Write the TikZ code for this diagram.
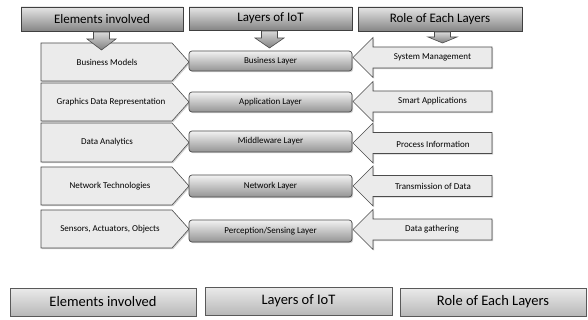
\documentclass[tikz,border=0pt]{standalone}
\usepackage{fontspec}
\setmainfont{Carlito}
\usetikzlibrary{shadows}
% block shapes drawn as explicit outlines
\newcommand\flowdown[4]{% centre x, top y, head y, tip y
  \draw[darr] (#1-8,#2) -- (#1+8,#2) -- (#1+8,#3) -- (#1+14.5,#3) -- (#1,#4)
    -- (#1-14.5,#3) -- (#1-8,#3) -- cycle;}
\newcommand\elemshape[2]{% top y, bottom y
  \draw[pent] (41,#1) -- (172,#1) -- (189,{(#1+#2)/2}) -- (172,#2) -- (41,#2) -- cycle;}
\newcommand\roleshape[1]{% centre y
  \draw[pent] (353,#1) -- (373,#1-20) -- (373,#1-10.5) -- (492,#1-10.5)
    -- (492,#1+10.5) -- (373,#1+10.5) -- (373,#1+20) -- cycle;}
\begin{document}
\begin{tikzpicture}[x=1pt,y=-1pt,
  shade/.style={drop shadow={shadow xshift=1.2pt,shadow yshift=-1.2pt,opacity=0.35}},
  hdr/.style={draw=black!75, line width=0.7pt, top color=black!10, bottom color=black!48, shade},
  lay/.style={draw=black!70, line width=0.7pt, rounded corners=3pt, top color=black!5, bottom color=black!42, shade},
  pent/.style={draw=black!70, line width=0.6pt, fill=black!8, shade},
  darr/.style={draw=black!70, line width=0.6pt, top color=black!15, bottom color=black!50},
  foot/.style={draw=black!65, line width=0.6pt, top color=black!8, bottom color=black!28, shade},
  big/.style={font=\fontsize{13}{15}\selectfont},
  bigger/.style={font=\fontsize{14.5}{17}\selectfont},
  small/.style={font=\fontsize{9}{11}\selectfont}]
\useasboundingbox (0,0) rectangle (588,320);
\fill[white] (0,0) rectangle (588,320);

% column headings
\draw[hdr] (21,7) rectangle (183,31);
\node[big] (h1) at (102,19) {Elements involved};
\draw[hdr] (189,7) rectangle (352,30);
\node[big] (h2) at (270.5,18.5) {Layers of IoT};
\draw[hdr] (358,7) rectangle (522,31);
\node[big] (h3) at (440,19) {Role of Each Layers};

% elements involved
\elemshape{43}{81}
\elemshape{83}{121}
\elemshape{123}{162}
\elemshape{167}{205}
\elemshape{210}{248}
\node[small] (e1) at (107,62) {Business Models};
\node[small] (e2) at (111,102) {Graphics Data Representation};
\node[small] (e3) at (107,142.5) {Data Analytics};
\node[small] (e4) at (110,186) {Network Technologies};
\node[small] (e5) at (110,229) {Sensors, Actuators, Objects};

% roles of each layer
\roleshape{57.5}
\roleshape{101.5}
\roleshape{143}
\roleshape{186}
\roleshape{229.5}
\node[small] (r1) at (432.5,57.5) {System Management};
\node[small] (r2) at (432.5,101.5) {Smart Applications};
\node[small] (r3) at (433,144) {Process Information};
\node[small] (r4) at (433,186) {Transmission of Data};
\node[small] (r5) at (432,229.5) {Data gathering};

% layers of IoT
\draw[lay] (189,51) rectangle (352,71);
\node[small] (l1) at (270.5,61) {Business Layer};
\draw[lay] (189,92) rectangle (352,112);
\node[small] (l2) at (270.5,102) {Application Layer};
\draw[lay] (189,131) rectangle (352,152);
\node[small] (l3) at (270.5,141.5) {Middleware Layer};
\draw[lay] (189,175) rectangle (352,197);
\node[small] (l4) at (270.5,186) {Network Layer};
\draw[lay] (189,220) rectangle (352,242);
\node[small] (l5) at (270.5,231) {Perception/Sensing Layer};

% arrows from the headings
\flowdown{101.5}{32}{39}{50}
\flowdown{269.5}{31}{38}{48}
\flowdown{442.5}{32}{37}{43}

% legend row
\draw[foot] (10,288) rectangle (196,316);
\node[bigger] (f1) at (103,302) {Elements involved};
\draw[foot] (205,287) rectangle (392,315);
\node[bigger] (f2) at (298.5,300.5) {Layers of IoT};
\draw[foot] (400,288) rectangle (586,316);
\node[bigger] (f3) at (493,302) {Role of Each Layers};
\end{tikzpicture}
\end{document}
